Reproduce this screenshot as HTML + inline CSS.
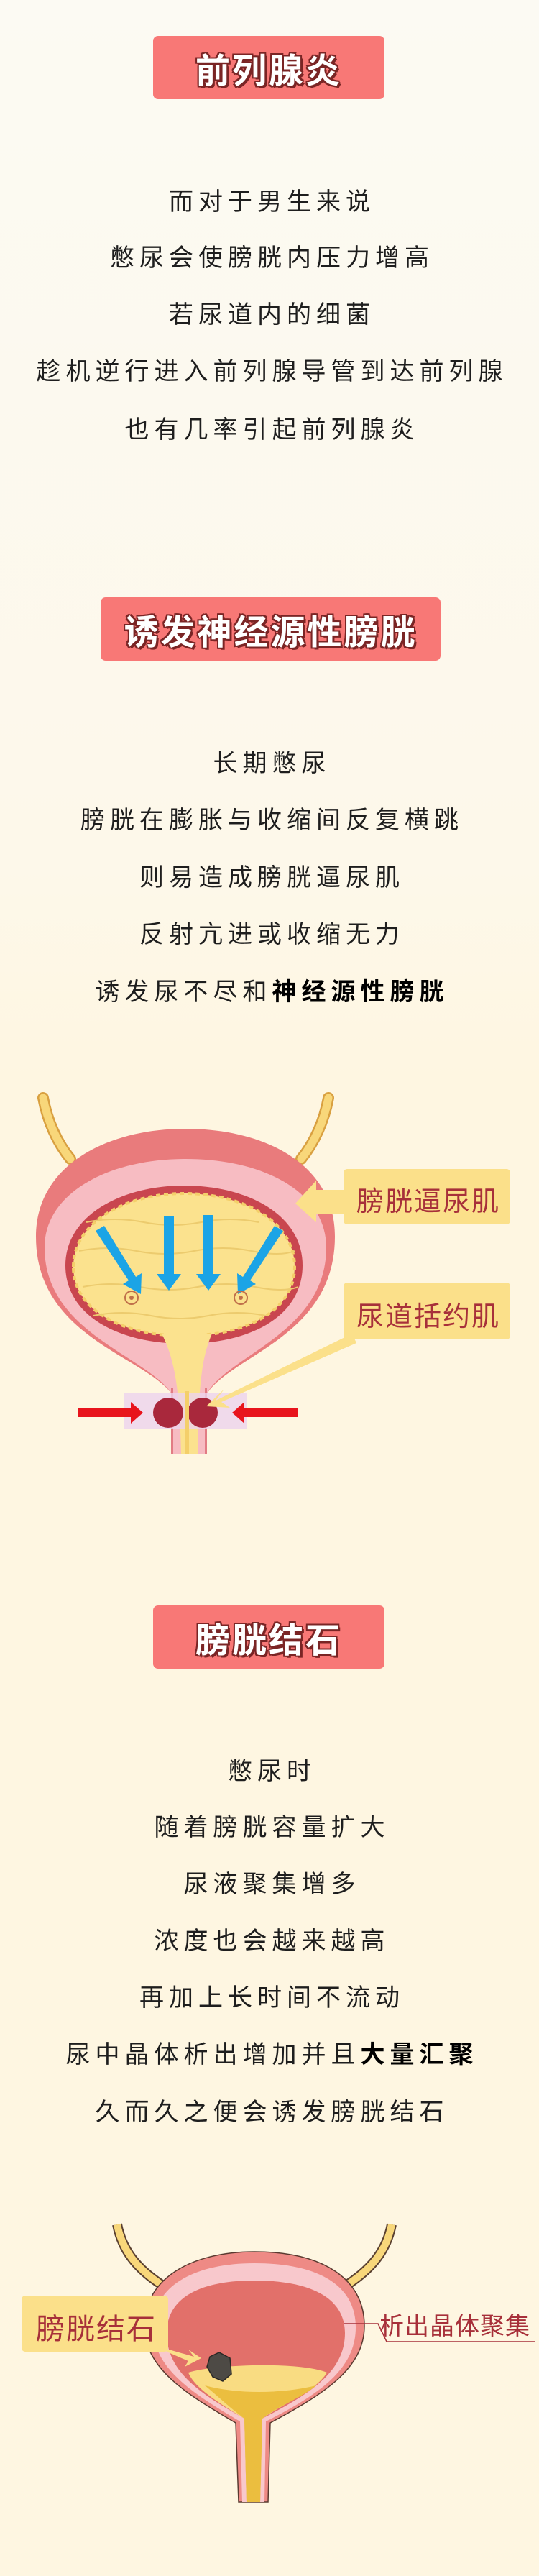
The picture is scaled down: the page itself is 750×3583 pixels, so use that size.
<!DOCTYPE html>
<html><head><meta charset="utf-8"><style>
*{margin:0;padding:0;box-sizing:border-box}
body{width:750px;height:3583px;position:relative;overflow:hidden;background:linear-gradient(#fcfaf3 0px,#fdf8ea 1200px,#fef6e1 1500px,#fef6e1 3583px);font-family:"Liberation Sans","Noto Sans CJK SC",sans-serif}
.tb{position:absolute;background:#f87876;border-radius:7px;display:flex;align-items:center;justify-content:center}
.tb span{font-size:48px;font-weight:bold;color:#fff;letter-spacing:3px;text-shadow:-2px -2px 0 #7a2525,2px -2px 0 #7a2525,-2px 2px 0 #7a2525,2px 2px 0 #7a2525,0 2px 0 #7a2525,0 -2px 0 #7a2525,2px 0 0 #7a2525,-2px 0 0 #7a2525,3px 3px 0 #7a2525}
.ln{position:absolute;left:0;width:750px;text-align:center;font-size:34px;line-height:40px;height:40px;color:#1e1e1e;letter-spacing:7px;padding-left:7px}
.ln b{font-weight:bold;color:#000}
svg{position:absolute;left:0;top:0}
.lab{position:absolute;color:#a7303a;font-size:38px;letter-spacing:2px;white-space:nowrap}
</style></head><body>

<svg width="750" height="3583" viewBox="0 0 750 3583">
<!-- ===== Illustration 1 ===== -->
<g>
<path d="M60,1527 C66,1560 80,1590 98,1612" stroke="#d9a040" stroke-width="16" fill="none" stroke-linecap="round"/>
<path d="M60,1527 C66,1560 80,1590 98,1612" stroke="#f8d77a" stroke-width="11" fill="none" stroke-linecap="round"/>
<path d="M457,1527 C451,1560 437,1590 419,1612" stroke="#d9a040" stroke-width="16" fill="none" stroke-linecap="round"/>
<path d="M457,1527 C451,1560 437,1590 419,1612" stroke="#f8d77a" stroke-width="11" fill="none" stroke-linecap="round"/>
<!-- outer bladder -->
<path d="M240,1940 C200,1885 50,1860 50,1720 C50,1620 150,1570 258,1570 C370,1570 466,1620 466,1720 C466,1860 320,1885 287,1940 Z" fill="#e97b7c"/>
<path d="M240,1940 C205,1885 62,1855 62,1735 C62,1660 150,1612 258,1612 C370,1612 454,1660 454,1735 C454,1855 315,1885 287,1940 Z" fill="#f7bcc2"/>
<!-- urethra -->
<rect x="238" y="1930" width="50" height="92" fill="#f7bcc2"/>
<rect x="238" y="1930" width="3" height="92" fill="#e27c84"/>
<rect x="285" y="1930" width="3" height="92" fill="#e27c84"/>
<!-- cavity -->
<path d="M91,1760 C91,1690 170,1649 256,1649 C345,1649 421,1690 421,1760 C421,1830 350,1869 256,1869 C165,1869 91,1830 91,1760 Z" fill="#c9464f"/>
<path d="M102,1762 C102,1700 175,1660 256,1660 C340,1660 410,1700 410,1762 C410,1822 345,1858 256,1858 C170,1858 102,1822 102,1762 Z" fill="#fbe28e" stroke="#f4cf6a" stroke-width="4" stroke-dasharray="6 5"/>
<path d="M225,1855 C240,1885 250,1920 252,2022 L275,2022 C276,1920 282,1885 295,1855 Z" fill="#fbe28e"/>
<g stroke="#eccb6e" stroke-width="2" fill="none">
<path d="M120,1700 q40,-8 80,0 t80,0 t80,0"/><path d="M110,1740 q40,-8 80,0 t80,0 t80,0 t60,0"/>
<path d="M115,1790 q40,-8 80,0 t80,0 t80,0 t60,0"/><path d="M130,1830 q40,-8 80,0 t80,0 t80,0"/>
</g>
<!-- blue arrows -->
<g fill="#1ba4e6">
<path d="M133,1712 L145,1705 L189,1776 L197,1771 L196,1800 L171,1786 L179,1781 Z"/>
<path d="M228,1692 L242,1692 L242,1772 L252,1772 L235,1795 L218,1772 L228,1772 Z"/>
<path d="M283,1690 L297,1690 L297,1772 L307,1772 L290,1795 L273,1772 L283,1772 Z"/>
<path d="M394,1712 L382,1705 L338,1776 L330,1771 L331,1800 L356,1786 L348,1781 Z"/>
</g>
<g fill="none" stroke="#c0704a" stroke-width="2"><circle cx="183" cy="1805" r="9"/><circle cx="335" cy="1805" r="9"/></g>
<g fill="#c0704a"><circle cx="183" cy="1805" r="3"/><circle cx="335" cy="1805" r="3"/></g>
<!-- sphincter -->
<rect x="172" y="1937" width="172" height="50" fill="#ecd3ee" opacity="0.8"/>
<circle cx="234" cy="1965" r="21" fill="#a9283c"/>
<circle cx="282" cy="1965" r="21" fill="#a9283c"/>
<rect x="258" y="1935" width="5" height="87" fill="#f4cf6a"/>
<path d="M109,1959 L182,1959 L182,1950 L199,1965 L182,1980 L182,1971 L109,1971 Z" fill="#e8141c"/>
<path d="M414,1959 L340,1959 L340,1950 L323,1965 L340,1980 L340,1971 L414,1971 Z" fill="#e8141c"/>
<!-- callouts -->
<rect x="478" y="1626" width="232" height="77" rx="5" fill="#fbe08a"/>
<path d="M478,1655 L440,1655 L440,1642 L411,1674 L440,1700 L440,1688 L478,1688 Z" fill="#fbe08a"/>
<rect x="478" y="1784" width="232" height="79" rx="5" fill="#fbe08a"/>
<path d="M490,1855 L300,1948 L312,1932 L287,1956 L320,1958 L308,1950 L496,1868 Z" fill="#fbe08a"/>
</g>

<!-- ===== Illustration 2 ===== -->
<g>
<path d="M163,3094 C170,3130 190,3155 225,3178" stroke="#5a4030" stroke-width="14" fill="none"/>
<path d="M163,3094 C170,3130 190,3155 225,3178" stroke="#f8d77a" stroke-width="10" fill="none"/>
<path d="M545,3094 C538,3130 518,3155 483,3178" stroke="#5a4030" stroke-width="14" fill="none"/>
<path d="M545,3094 C538,3130 518,3155 483,3178" stroke="#f8d77a" stroke-width="10" fill="none"/>
<path d="M328,3370 C260,3330 201,3295 201,3235 C201,3170 265,3132 354,3132 C450,3132 507,3170 507,3235 C507,3295 450,3330 376,3370 L373,3480 L332,3480 Z" fill="#ee8a85" stroke="#5a3a30" stroke-width="1.5"/>
<path d="M334,3368 C270,3330 213,3295 213,3237 C213,3180 270,3148 354,3148 C445,3148 495,3180 495,3237 C495,3295 445,3330 370,3368 L368,3480 L337,3480 Z" fill="#f8c8cc"/>
<path d="M340,3364 C280,3330 232,3300 232,3245 C232,3195 280,3172 354,3172 C430,3172 480,3195 480,3245 C480,3300 430,3330 365,3364 L362,3480 L343,3480 Z" fill="#e2706a"/>
<path d="M262,3300 C300,3288 420,3285 455,3300 C440,3325 400,3340 365,3364 L362,3480 L343,3480 L340,3364 C300,3340 270,3320 262,3300 Z" fill="#f9dc82"/>
<path d="M285,3318 C330,3330 390,3330 440,3318 C420,3335 390,3345 365,3364 L362,3480 L343,3480 L340,3364 C315,3345 300,3330 285,3318 Z" fill="#ebbe3f"/>
<path d="M292,3278 L305,3272 L320,3280 L322,3302 L310,3312 L296,3306 L288,3292 Z" fill="#4d4a45" stroke="#2a2825" stroke-width="1.5"/>
<rect x="30" y="3193" width="204" height="78" rx="5" fill="#fbe08a"/>
<path d="M228,3266 L270,3278 L262,3268 L280,3280 L257,3292 L262,3284 L232,3271 Z" fill="#fbe08a"/>
<path d="M478,3232 L526,3232 L538,3257 L745,3257" stroke="#a7303a" stroke-width="1.5" fill="none"/>
</g>
</svg>

<div class="tb" style="left:213px;top:50px;width:322px;height:88px"><span>前列腺炎</span></div>
<div class="ln" style="top:261px">而对于男生来说</div>
<div class="ln" style="top:339px">憋尿会使膀胱内压力增高</div>
<div class="ln" style="top:418px">若尿道内的细菌</div>
<div class="ln" style="top:497px">趁机逆行进入前列腺导管到达前列腺</div>
<div class="ln" style="top:578px">也有几率引起前列腺炎</div>

<div class="tb" style="left:140px;top:831px;width:473px;height:88px"><span>诱发神经源性膀胱</span></div>
<div class="ln" style="top:1042px">长期憋尿</div>
<div class="ln" style="top:1121px">膀胱在膨胀与收缩间反复横跳</div>
<div class="ln" style="top:1201px">则易造成膀胱逼尿肌</div>
<div class="ln" style="top:1280px">反射亢进或收缩无力</div>
<div class="ln" style="top:1360px">诱发尿不尽和<b>神经源性膀胱</b></div>

<div class="lab" style="left:496px;top:1640px">膀胱逼尿肌</div>
<div class="lab" style="left:496px;top:1800px">尿道括约肌</div>

<div class="tb" style="left:213px;top:2233px;width:322px;height:88px"><span>膀胱结石</span></div>
<div class="ln" style="top:2444px">憋尿时</div>
<div class="ln" style="top:2522px">随着膀胱容量扩大</div>
<div class="ln" style="top:2601px">尿液聚集增多</div>
<div class="ln" style="top:2680px">浓度也会越来越高</div>
<div class="ln" style="top:2759px">再加上长时间不流动</div>
<div class="ln" style="top:2838px">尿中晶体析出增加并且<b>大量汇聚</b></div>
<div class="ln" style="top:2918px">久而久之便会诱发膀胱结石</div>

<div class="lab" style="left:50px;top:3207px;font-size:40px">膀胱结石</div>
<div class="lab" style="left:528px;top:3208px;font-size:34px;letter-spacing:1px">析出晶体聚集</div>
</body></html>
